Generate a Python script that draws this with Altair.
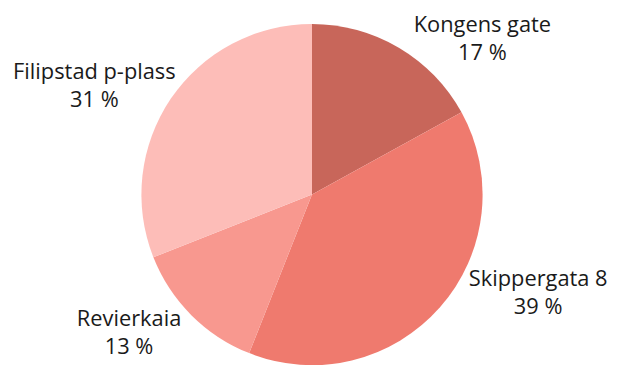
import altair as alt
import pandas as pd

categories = ["Kongens gate", "Skippergata 8", "Revierkaia", "Filipstad p-plass"]
shares = [17, 39, 13, 31]
colors = ["#c8665a", "#ef7a6e", "#f8988f", "#fdbdb8"]

df = pd.DataFrame({
    "sted": categories,
    "andel": shares,
    "order": list(range(len(categories))),
})
df["label"] = [[c, f"{v} %"] for c, v in zip(categories, shares)]

pie = alt.Chart(df).mark_arc(outerRadius=172, stroke=None).encode(
    theta=alt.Theta("andel:Q", stack=True),
    order=alt.Order("order:Q"),
    color=alt.Color("sted:N", scale=alt.Scale(domain=categories, range=colors), legend=None),
)

text_base = alt.Chart(df).transform_window(
    cum="sum(andel)", sort=[alt.SortField("order")]
).transform_calculate(
    mid="datum.cum - datum.andel / 2"
)

# label nudges (style offsets from the mid-angle point)
offsets = {
    "Kongens gate": (70, 8),
    "Skippergata 8": (78, -40),
    "Revierkaia": (-43, -9),
    "Filipstad p-plass": (-54, -4),
}
labels = []
for cat in categories:
    ddx, ddy = offsets[cat]
    labels.append(
        text_base.transform_filter(alt.datum.sted == cat).mark_text(
            radius=200, dx=ddx, dy=ddy, fontSize=22, font="Open Sans",
            align="center", baseline="alphabetic", lineHeight=28.5, color="#1a1a1a",
        ).encode(
            theta=alt.Theta("mid:Q", stack=None),
            text="label",
        )
    )

chart = alt.layer(pie, *labels).properties(
    width=613, height=373, padding=0
).configure_view(stroke=None)

chart.save("out.html", embed_options={"renderer": "svg", "actions": False})
